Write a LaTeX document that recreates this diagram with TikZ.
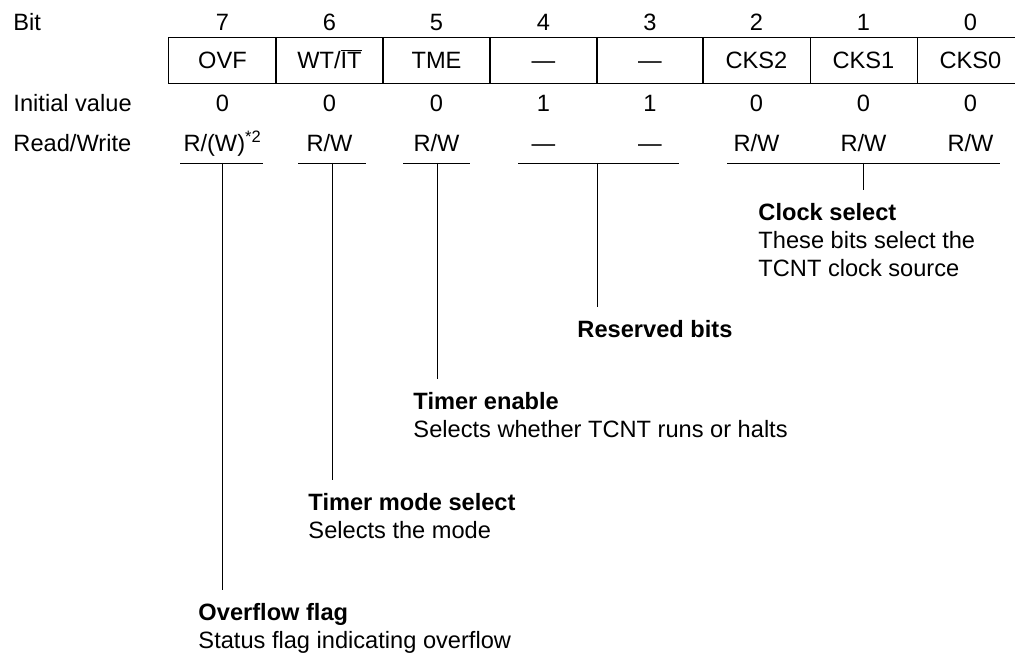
\documentclass[tikz,border=0pt]{standalone}
\usepackage{fontspec}
\setmainfont{Liberation Sans}
\usetikzlibrary{positioning}

\begin{document}
\begin{tikzpicture}[
  x=0.025cm, y=-0.025cm,
  font=\fontsize{16.8}{19.9}\selectfont,
  line width=0.7pt,
  lbl/.style={anchor=west, inner sep=0pt, text height=12pt, text depth=0pt},
  val/.style={inner sep=0pt, text height=12pt, text depth=0pt},
  cell/.style={draw, minimum width=2.675cm, minimum height=1.125cm,
               inner sep=0pt, text height=12pt, text depth=0pt},
  desc/.style={anchor=north west, align=left, inner xsep=0pt, inner ysep=9pt},
]
  \clip (0,0) rectangle (1015,655);
  % row labels
  \node[lbl] (bit-l)  at (13,22)  {Bit};
  \node[lbl] (init-l) at (13,103) {Initial value};
  \node[lbl] (rw-l)   at (13,143) {Read/Write};
  % bit numbers
  \node[val] (n7) at (222.5,22) {7};
  \node[val] (n6) at (329.5,22) {6};
  \node[val] (n5) at (436.5,22) {5};
  \node[val] (n4) at (543.5,22) {4};
  \node[val] (n3) at (650,22)   {3};
  \node[val] (n2) at (756.5,22) {2};
  \node[val] (n1) at (863.5,22) {1};
  \node[val] (n0) at (970.5,22) {0};
  % register cells
  \node[cell] (b7) at (222.5,60.5) {OVF};
  \node[cell] (b6) at (329.5,60.5) {WT/\(\overline{\mbox{IT}}\)};
  \node[cell] (b5) at (436.5,60.5) {TME};
  \node[cell] (b4) at (543.5,60.5) {---};
  \node[cell] (b3) at (650,60.5)   {---};
  \node[cell] (b2) at (756.5,60.5) {CKS2};
  \node[cell] (b1) at (863.5,60.5) {CKS1};
  \node[cell] (b0) at (970.5,60.5) {CKS0};
  % initial values
  \node[val] (i7) at (222.5,103) {0};
  \node[val] (i6) at (329.5,103) {0};
  \node[val] (i5) at (436.5,103) {0};
  \node[val] (i4) at (543.5,103) {1};
  \node[val] (i3) at (650,103)   {1};
  \node[val] (i2) at (756.5,103) {0};
  \node[val] (i1) at (863.5,103) {0};
  \node[val] (i0) at (970.5,103) {0};
  % read/write
  \node[val] (rw7) at (222.5,143) {R/(W)\textsuperscript{*2}};
  \node[val] (rw6) at (329.5,143) {R/W};
  \node[val] (rw5) at (436.5,143) {R/W};
  \node[val] (rw4) at (543.5,143) {---};
  \node[val] (rw3) at (650,143)   {---};
  \node[val] (rw2) at (756.5,143) {R/W};
  \node[val] (rw1) at (863.5,143) {R/W};
  \node[val] (rw0) at (970.5,143) {R/W};
  % descriptions
  \node[desc] (clk) at (758,190) {\textbf{Clock select}\\These bits select the\\TCNT clock source};
  \node[desc] (rsv) at (577,307) {\textbf{Reserved bits}};
  \node[desc] (tme) at (413,379) {\textbf{Timer enable}\\Selects whether TCNT runs or halts};
  \node[desc] (wt)  at (308,480) {\textbf{Timer mode select}\\Selects the mode};
  \node[desc] (ovf) at (198,590) {\textbf{Overflow flag}\\Status flag indicating overflow};
  % underlines and leaders
  \coordinate (s7) at (222.5,163);
  \coordinate (s6) at (332,163);
  \coordinate (s5) at (437,163);
  \coordinate (s43) at (597,163);
  \coordinate (s20) at (863.5,163);
  \draw (180,163) -- (263,163);
  \draw (298,163) -- (366,163);
  \draw (403,163) -- (470,163);
  \draw (518,163) -- (679,163);
  \draw (727,163) -- (1000,163);
  \draw (s7)  -- (s7 |- ovf.north);
  \draw (s6)  -- (s6 |- wt.north);
  \draw (s5)  -- (s5 |- tme.north);
  \draw (s43) -- (s43 |- rsv.north);
  \draw (s20) -- (s20 |- clk.north);
\end{tikzpicture}
\end{document}
